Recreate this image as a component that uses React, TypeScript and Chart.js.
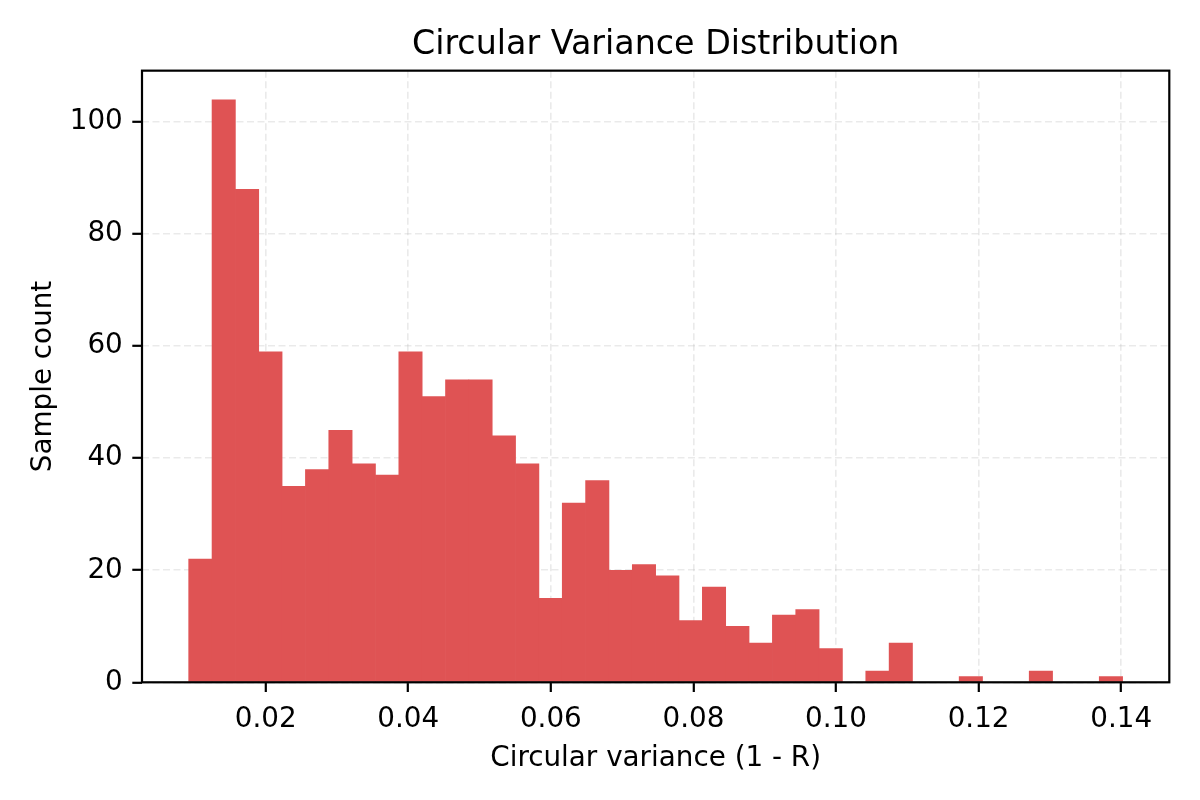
import { useEffect, useRef } from "react";
import { Chart, registerables } from "chart.js";

Chart.register(...registerables);

// Histogram bin edges (41 edges -> 40 bins)
const binEdges = [
  0.0092, 0.012475, 0.01575, 0.019025, 0.0223, 0.025575, 0.02885, 0.032125,
  0.0354, 0.038675, 0.04195, 0.045225, 0.0485, 0.051775, 0.05505, 0.058325,
  0.0616, 0.064875, 0.06815, 0.071425, 0.0747, 0.077975, 0.08125, 0.084525,
  0.0878, 0.091075, 0.09435, 0.097625, 0.1009, 0.104175, 0.10745, 0.110725,
  0.114, 0.117275, 0.12055, 0.123825, 0.1271, 0.130375, 0.13365, 0.136925,
  0.1402,
];

// Sample counts per bin
const counts = [
  22, 104, 88, 59, 35, 38, 45, 39, 37, 59, 51, 54, 54, 44, 39, 15, 32, 36, 20,
  21, 19, 11, 17, 10, 7, 12, 13, 6, 0, 2, 7, 0, 0, 1, 0, 0, 2, 0, 0, 1,
];

const xTicks = [0.02, 0.04, 0.06, 0.08, 0.1, 0.12, 0.14];
const yTicks = [0, 20, 40, 60, 80, 100];
const xRange = [0.00265, 0.14675];
const yRange = [0, 109.2];

const titleText = "Circular Variance Distribution";
const xLabel = "Circular variance (1 - R)";
const yLabel = "Sample count";

const FONT = "'DejaVu Sans', 'Liberation Sans', sans-serif";

const spinesPlugin = {
  id: "spines",
  afterDraw(chart: any) {
    const { ctx, chartArea } = chart;
    ctx.save();
    ctx.strokeStyle = "#000";
    ctx.lineWidth = 2.2;
    ctx.strokeRect(
      chartArea.left,
      chartArea.top,
      chartArea.right - chartArea.left,
      chartArea.bottom - chartArea.top
    );
    ctx.restore();
  },
};

export default function App() {
  const canvasRef = useRef<HTMLCanvasElement | null>(null);

  useEffect(() => {
    if (!canvasRef.current) return;
    const data = counts.map((c, i) => ({
      x: (binEdges[i] + binEdges[i + 1]) / 2,
      y: c,
    }));

    const gridCommon = {
      color: "rgba(176,176,176,0.27)",
      lineWidth: 1.6,
      tickColor: "#000",
      tickWidth: 2.2,
      tickLength: 9.7,
      tickBorderDash: [],
      offset: false,
      drawTicks: true,
    };

    const chart = new Chart(canvasRef.current, {
      type: "bar",
      data: {
        datasets: [
          {
            data,
            backgroundColor: "#df5354",
            borderWidth: 0,
            barPercentage: 1,
            categoryPercentage: 1,
          },
        ],
      },
      options: {
        animation: false,
        responsive: false,
        devicePixelRatio: 1,
        layout: { padding: { left: 0, right: 30.7, top: 0, bottom: 0 } },
        plugins: {
          legend: { display: false },
          tooltip: { enabled: false },
          title: {
            display: true,
            text: titleText,
            fullSize: false,
            color: "#000",
            font: { family: FONT, size: 33.3, weight: "normal", lineHeight: 1.2 },
            padding: { top: 25.8, bottom: 4.9 },
          },
        },
        scales: {
          x: {
            type: "linear",
            min: xRange[0],
            max: xRange[1],
            offset: false,
            z: 1,
            grid: gridCommon,
            border: { display: false, dash: [7, 3.5] },
            ticks: {
              color: "#000",
              padding: 11,
              maxRotation: 0,
              font: { family: FONT, size: 27.8 },
              callback: (v: any) => Number(v).toFixed(2),
            },
            afterBuildTicks: (scale: any) => {
              scale.ticks = xTicks.map((v) => ({ value: v }));
            },
            afterFit: (scale: any) => {
              scale.height = 117.7;
            },
            title: {
              display: true,
              text: xLabel,
              color: "#000",
              font: { family: FONT, size: 27.8, lineHeight: 1.2 },
              padding: { top: 0, bottom: 25 },
            },
          },
          y: {
            type: "linear",
            min: yRange[0],
            max: yRange[1],
            z: 1,
            grid: gridCommon,
            border: { display: false, dash: [7, 3.5] },
            ticks: {
              color: "#000",
              padding: 9.5,
              font: { family: FONT, size: 27.8 },
              callback: (v: any) => String(v),
            },
            afterBuildTicks: (scale: any) => {
              scale.ticks = yTicks.map((v) => ({ value: v }));
            },
            afterFit: (scale: any) => {
              scale.width = 142;
            },
            title: {
              display: true,
              text: yLabel,
              color: "#000",
              font: { family: FONT, size: 27.8, lineHeight: 1.2 },
              padding: { top: 27, bottom: 0 },
            },
          },
        },
      },
      plugins: [spinesPlugin],
    } as any);

    return () => chart.destroy();
  }, []);

  return (
    <div
      style={{
        position: "absolute",
        left: 0,
        top: 0,
        width: 1200,
        height: 800,
        background: "#fff",
      }}
    >
      <canvas
        ref={canvasRef}
        width={1200}
        height={800}
        style={{ width: 1200, height: 800, display: "block" }}
      />
    </div>
  );
}
